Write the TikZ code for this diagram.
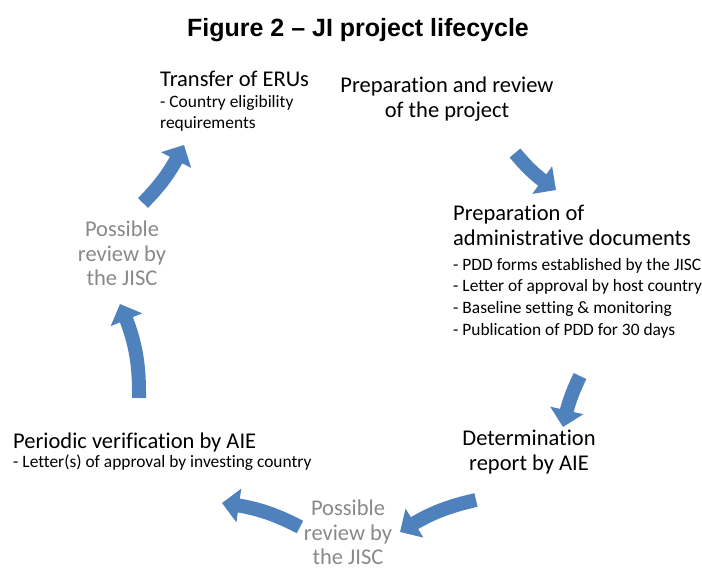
\documentclass[tikz,border=0pt]{standalone}
\usepackage{fontspec}
\setmainfont{Carlito}[Ligatures=NoCommon]
\newfontfamily\titlefont{Liberation Sans}
\usetikzlibrary{arrows.meta,bending}
\definecolor{cycleblue}{RGB}{79,129,189}
\definecolor{reviewgray}{RGB}{137,137,137}
\tikzset{
	stagetext/.style={inner sep=0pt,font=\fontsize{22.5}{25}\selectfont},
	itemtext/.style={inner sep=0pt,align=left,font=\fontsize{17.4}{21.7}\selectfont},
	reviewtext/.style={inner sep=0pt,align=center,text=reviewgray,font=\fontsize{22.5}{24.4}\selectfont},
	cyclearrow/.style={draw=cycleblue,line width=14pt,-{Triangle[width=33pt,length=17pt]}},
}

\begin{document}
\begin{tikzpicture}[x=1pt,y=-1pt]
	\useasboundingbox (0,0) rectangle (702,570);
	\node[anchor=north,inner sep=0pt,font=\titlefont\bfseries\fontsize{25}{28}\selectfont] (title) at (358,18) {Figure 2 – JI project lifecycle};
	% stages
	\node[stagetext,anchor=north west] (transfer) at (160,71) {Transfer of ERUs};
	\node[itemtext,anchor=north west] (transferitems) at (160,95) {- Country eligibility\\requirements};
	\node[stagetext,align=center,anchor=north] (prep) at (447,77) {Preparation and review\\of the project};
	\node[stagetext,align=left,anchor=north west] (admin) at (453,205) {Preparation of\\administrative documents};
	\node[itemtext,anchor=north west] (adminitems) at (453,258)
		{- PDD forms established by the JISC\\- Letter of approval by host country\\- Baseline setting \& monitoring\\- Publication of PDD for 30 days};
	\node[stagetext,align=center,anchor=north] (determ) at (529,430) {Determination\\report by AIE};
	\node[stagetext,anchor=north west] (verif) at (13,433) {Periodic verification by AIE};
	\node[itemtext,anchor=north west] (verifitems) at (13,455) {- Letter(s) of approval by investing country};
	\node[reviewtext,anchor=north] (reviewb) at (348,500) {Possible\\review by\\the JISC};
	\node[reviewtext,anchor=north] (reviewl) at (122,221) {Possible\\review by\\the JISC};
	% arrows round the cycle
	\coordinate (a1s) at (515,153);
	\coordinate (a1e) at (556,190);
	\coordinate (a2s) at (580,376);
	\coordinate (a2e) at (563,427);
	\coordinate (a3s) at (476,500);
	\coordinate (a3e) at (400,532);
	\coordinate (a4s) at (300,527);
	\coordinate (a4e) at (222,503);
	\coordinate (a5s) at (139,398);
	\coordinate (a5e) at (120,304);
	\coordinate (a6s) at (143,203);
	\coordinate (a6e) at (184,145);
	\foreach \from/\to/\ang in {a1s/a1e/8,a2s/a2e/7,a3s/a3e/10,a4s/a4e/10,a5s/a5e/12,a6s/a6e/9}{
		\draw[cyclearrow] (\from) to[bend right=\ang] (\to);
	}
\end{tikzpicture}
\end{document}
